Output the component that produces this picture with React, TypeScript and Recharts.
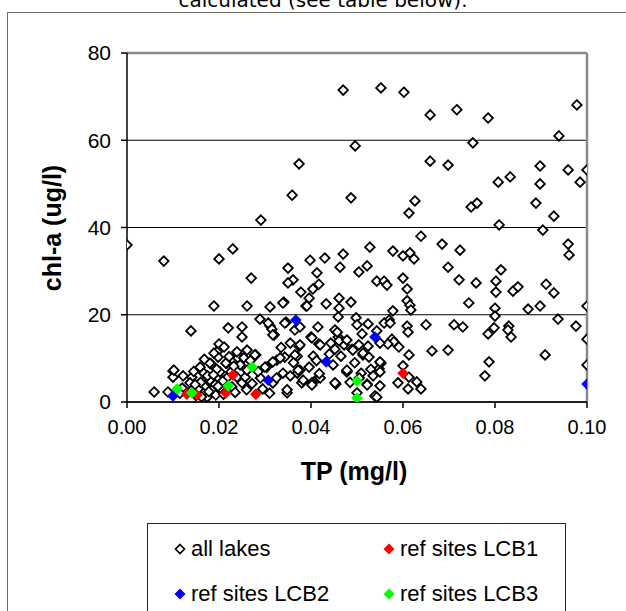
import { ScatterChart, Scatter, XAxis, YAxis, CartesianGrid, ReferenceLine, Legend } from "recharts";

// TP (mg/l), chl-a (ug/l)
const allLakes: [number, number][] = [
  [0.047, 71.5], [0.0552, 72.0], [0.0602, 71.0], [0.0659, 65.8], [0.0717, 67.0], [0.0785, 65.1],
  [0.0978, 68.1], [0.0939, 61.0], [0.0496, 58.7], [0.0752, 59.4], [0.0374, 54.6], [0.0659, 55.2],
  [0.0698, 54.3], [0.0898, 54.1], [0.0959, 53.2], [0.1, 53.2], [0.0985, 50.4], [0.0898, 50.0],
  [0.0807, 50.4], [0.0833, 51.6], [0.0359, 47.4], [0.0487, 46.8], [0.0626, 46.1], [0.0613, 43.3],
  [0.0748, 44.7], [0.0761, 45.6], [0.0889, 45.6], [0.0928, 42.6], [0.0291, 41.7], [0.0809, 40.6],
  [0.0904, 39.4], [0.0639, 38.0], [0.0685, 36.2], [0.0724, 34.8], [0.0959, 36.2], [0.0961, 33.7],
  [0.0528, 35.5], [0.047, 33.9], [0.0578, 34.6], [0.06, 33.5], [0.0615, 34.2], [0.0624, 32.8],
  [0.0463, 30.9], [0.0522, 31.2], [0.0504, 29.8], [0.0698, 30.9], [0.0813, 30.3], [0.0543, 27.7],
  [0.0559, 27.7], [0.0565, 26.8], [0.06, 28.4], [0.0722, 28.0], [0.0759, 27.3], [0.0802, 27.7],
  [0.0911, 27.0], [0.0609, 25.9], [0.0802, 25.2], [0.0839, 25.4], [0.085, 26.4], [0.0928, 25.0],
  [0.0487, 22.9], [0.0609, 23.2], [0.0615, 22.2], [0.0617, 21.1], [0.0743, 22.7], [0.08, 21.5],
  [0.08, 19.7], [0.0872, 21.3], [0.0898, 22.0], [0.1, 22.0],
  [0.0, 36.0], [0.008, 32.3], [0.02, 32.8], [0.023, 35.1], [0.027, 28.4], [0.035, 30.7],
  [0.0361, 28.0], [0.035, 27.3], [0.0398, 32.5], [0.043, 33.0], [0.0413, 29.6], [0.0417, 27.0],
  [0.0404, 25.9], [0.0396, 23.8], [0.0378, 25.2], [0.0389, 22.0], [0.0341, 22.9], [0.0311, 21.8],
  [0.0261, 22.0], [0.0189, 22.0], [0.0433, 22.5], [0.0461, 23.8], [0.0461, 21.5], [0.0459, 19.5],
  [0.0339, 22.7], [0.0391, 22.0],
  [0.0578, 20.9], [0.057, 18.8], [0.0559, 18.1], [0.0498, 19.3], [0.05, 17.7], [0.0524, 17.9],
  [0.0511, 15.6], [0.0543, 16.3], [0.0609, 17.4], [0.0611, 16.0], [0.065, 17.7], [0.0711, 17.7],
  [0.073, 17.2], [0.0798, 17.0], [0.0785, 15.6], [0.083, 17.4], [0.0828, 16.5], [0.0835, 14.9],
  [0.0937, 19.0], [0.0976, 17.4], [0.1, 14.4], [0.0576, 14.4], [0.058, 13.8], [0.0567, 13.3],
  [0.0591, 12.6], [0.055, 13.5], [0.0524, 12.8], [0.0513, 10.8], [0.0526, 10.3], [0.0504, 13.1],
  [0.0489, 12.1], [0.0472, 13.1], [0.0613, 10.8], [0.0663, 11.7], [0.0698, 11.9], [0.0909, 10.8],
  [0.1, 8.5], [0.0787, 9.2], [0.0778, 6.0], [0.06, 8.3], [0.0613, 5.7], [0.0589, 4.4],
  [0.063, 4.6], [0.0639, 3.0], [0.0611, 3.0], [0.055, 3.7], [0.0539, 1.4], [0.0552, 8.9],
  [0.0548, 7.6], [0.055, 6.9], [0.0509, 6.6], [0.0478, 7.1], [0.0522, 4.1], [0.05, 2.1],
  [0.0139, 16.3], [0.022, 17.0], [0.025, 17.2], [0.025, 14.9], [0.0289, 19.0], [0.0311, 17.4],
  [0.0315, 16.7], [0.032, 15.4], [0.0346, 18.3], [0.0365, 16.5], [0.0376, 17.2], [0.0374, 12.8],
  [0.0415, 17.2], [0.04, 14.9], [0.0417, 13.3], [0.0452, 16.5], [0.0459, 14.9], [0.0461, 14.0],
  [0.0452, 12.1], [0.0443, 13.5], [0.0478, 6.9], [0.0454, 4.1], [0.0343, 10.3], [0.037, 10.5],
  [0.037, 6.6], [0.0376, 7.3], [0.038, 4.4], [0.0396, 8.0], [0.0402, 4.4], [0.0415, 5.5],
  [0.0348, 2.1], [0.0348, 2.8], [0.0317, 4.4], [0.0304, 8.0], [0.0326, 9.6], [0.028, 10.8],
  [0.0261, 11.9], [0.0239, 11.2], [0.0241, 10.1], [0.0217, 8.9], [0.0204, 12.6], [0.0196, 11.5],
  [0.0198, 10.3], [0.0183, 8.7], [0.0159, 8.0], [0.0141, 5.7], [0.0122, 6.0], [0.01, 7.1],
  [0.01, 5.7], [0.0059, 2.3], [0.0089, 2.3],
  [0.0572, 18.1], [0.0307, 18.1], [0.0343, 18.1], [0.0317, 15.4], [0.0402, 14.7], [0.0376, 13.1],
  [0.042, 13.1], [0.0457, 16.0], [0.0478, 14.2], [0.0491, 11.9], [0.0513, 11.2], [0.055, 9.2],
  [0.0478, 7.3], [0.0452, 4.4], [0.0522, 3.9], [0.0543, 1.1], [0.0383, 5.0], [0.0402, 3.9],
  [0.042, 5.5], [0.0372, 7.3], [0.0365, 10.8], [0.0333, 10.1], [0.0317, 9.2], [0.03, 8.0],
  [0.0339, 6.6],
  [0.0102, 7.3], [0.0137, 4.4], [0.0167, 6.6], [0.018, 8.9], [0.0189, 11.2], [0.02, 13.3],
  [0.0211, 12.6], [0.0239, 11.5], [0.0254, 10.1], [0.0278, 10.8], [0.0215, 8.9], [0.0202, 6.9],
  [0.018, 5.0], [0.017, 3.4], [0.0165, 2.1], [0.0185, 2.8], [0.0193, 1.6], [0.0174, 1.1],
  [0.0239, 5.7], [0.025, 4.4], [0.0257, 5.7], [0.0261, 7.3], [0.0246, 8.5], [0.0226, 6.9],
  [0.0217, 5.5], [0.0155, 3.0], [0.016, 4.5], [0.015, 1.5], [0.0175, 6.0], [0.0192, 4.0],
  [0.0205, 3.0], [0.021, 1.8], [0.0228, 3.5], [0.0235, 2.2], [0.026, 2.8], [0.0272, 4.2],
  [0.029, 5.5], [0.0295, 3.0], [0.031, 2.0], [0.0285, 7.0], [0.0195, 7.5], [0.012, 3.2],
  [0.0115, 2.0], [0.014, 2.6], [0.0162, 1.2], [0.0325, 5.5], [0.0335, 12.5], [0.0355, 13.5],
  [0.0362, 9.0], [0.0355, 6.0], [0.0405, 10.5], [0.0412, 9.5], [0.0418, 6.5], [0.0448, 8.5],
  [0.044, 11.0], [0.0465, 10.5], [0.0495, 9.0], [0.0485, 4.5], [0.0505, 5.5], [0.053, 7.5],
  [0.0535, 6.0], [0.0145, 7.0], [0.0168, 9.8], [0.0188, 6.2], [0.0208, 4.8], [0.0222, 10.4],
  [0.0232, 8.2], [0.0268, 9.5], [0.0148, 4.0], [0.0178, 2.4], [0.0198, 3.6],
];
const refLCB1: [number, number][] = [[0.013, 1.8], [0.0152, 1.6], [0.0215, 2.1], [0.023, 6.2], [0.028, 1.8], [0.06, 6.6]];
const refLCB2: [number, number][] = [[0.01, 1.4], [0.0307, 5.0], [0.0367, 18.8], [0.0433, 9.2], [0.0539, 14.9], [0.1, 4.1]];
const refLCB3: [number, number][] = [[0.0109, 3.0], [0.0141, 2.1], [0.022, 3.7], [0.0272, 8.0], [0.05, 4.8], [0.05, 0.9]];

const xTicks = [0, 0.02, 0.04, 0.06, 0.08, 0.1];
const yTicks = [0, 20, 40, 60, 80];

const toPts = (arr: [number, number][]) => arr.map(([tp, chl]) => ({ tp, chl }));

const FONT = "'Liberation Sans', Arial, sans-serif";

function Diamond(props: any) {
  const { cx, cy, fill } = props;
  if (cx == null || cy == null) return null;
  if (fill === "none") {
    const r = 4.8;
    return (
      <polygon
        points={`${cx},${cy - r} ${cx + r},${cy} ${cx},${cy + r} ${cx - r},${cy}`}
        fill="#fff"
        stroke="#000"
        strokeWidth={1.8}
      />
    );
  }
  const r = 5.8;
  return <polygon points={`${cx},${cy - r} ${cx + r},${cy} ${cx},${cy + r} ${cx - r},${cy}`} fill={fill} />;
}

function LegendBox(props: any) {
  const { payload } = props;
  return (
    <div
      style={{
        border: "1px solid #222",
        width: 419,
        height: 100,
        boxSizing: "border-box",
        display: "grid",
        gridTemplateColumns: "234px 185px",
        gridAutoRows: "45px",
        paddingTop: 2,
        fontFamily: FONT,
        fontSize: 22,
        color: "#000",
      }}
    >
      {(payload || []).map((p: any) => {
        const hollow = p.payload?.fill === "none";
        return (
          <div key={p.value} style={{ display: "flex", alignItems: "center", paddingLeft: hollow || p.value === "ref sites LCB2" ? 25 : 0 }}>
            <svg width={14} height={14} style={{ marginRight: 4 }}>
              {hollow ? (
                <polygon points="7,2.5 11.5,7 7,11.5 2.5,7" fill="#fff" stroke="#000" strokeWidth={1.6} />
              ) : (
                <polygon points="7,1.5 12.5,7 7,12.5 1.5,7" fill={p.color} />
              )}
            </svg>
            <span>{p.value}</span>
          </div>
        );
      })}
    </div>
  );
}

export default function App() {
  return (
    <div style={{ position: "absolute", left: 0, top: 0, width: 626, height: 611, overflow: "hidden", background: "#fff" }}>
      <svg width={626} height={20} style={{ position: "absolute", left: 0, top: 0 }}>
        <text x={323} y={7} textAnchor="middle" fontFamily="'DejaVu Sans', Verdana, sans-serif" fontSize={20} fill="#000">
          calculated (see table below).
        </text>
      </svg>
      <div style={{ position: "absolute", left: 7, top: 12, width: 700, height: 700, border: "1px solid #6b6b6b" }} />
      <div style={{ position: "absolute", left: 0, top: 0 }}>
        <ScatterChart width={626} height={611} margin={{ top: 53, right: 39, bottom: 169, left: 7 }}>
          <CartesianGrid horizontal vertical={false} stroke="#000" strokeWidth={1} />
          <XAxis
            type="number"
            dataKey="tp"
            domain={[0, 0.1]}
            ticks={xTicks}
            interval={0}
            tickFormatter={(v: number) => v.toFixed(2)}
            height={40}
            tickSize={6}
            tickMargin={12}
            stroke="#000"
            strokeWidth={1.5}
            tick={{ fill: "#000", fontSize: 20, fontFamily: FONT }}
            allowDataOverflow
            label={{
              content: () => (
                <text x={354} y={480} textAnchor="middle" fontFamily={FONT} fontSize={25} fontWeight="bold" fill="#000">
                  TP (mg/l)
                </text>
              ),
            }}
          />
          <YAxis
            type="number"
            dataKey="chl"
            domain={[0, 80]}
            ticks={yTicks}
            interval={0}
            width={120}
            tickSize={6}
            tickMargin={10}
            stroke="#000"
            strokeWidth={1.5}
            tick={{ fill: "#000", fontSize: 21, fontFamily: FONT }}
            allowDataOverflow
            label={{
              content: () => (
                <text
                  x={61}
                  y={228}
                  transform="rotate(-90 61 228)"
                  textAnchor="middle"
                  fontFamily={FONT}
                  fontSize={25}
                  fontWeight="bold"
                  fill="#000"
                >
                  chl-a (ug/l)
                </text>
              ),
            }}
          />
          <ReferenceLine y={80} stroke="#8a8a8a" strokeWidth={2.5} />
          <ReferenceLine x={0.1} stroke="#8a8a8a" strokeWidth={2.5} />
          <Scatter name="all lakes" data={toPts(allLakes)} fill="none" shape={Diamond} isAnimationActive={false} />
          <Scatter name="ref sites LCB1" data={toPts(refLCB1)} fill="#ff0000" shape={Diamond} isAnimationActive={false} />
          <Scatter name="ref sites LCB2" data={toPts(refLCB2)} fill="#0000ff" shape={Diamond} isAnimationActive={false} />
          <Scatter name="ref sites LCB3" data={toPts(refLCB3)} fill="#00ff00" shape={Diamond} isAnimationActive={false} />
          <Legend
            layout="horizontal"
            verticalAlign="middle"
            align="center"
            content={LegendBox}
            wrapperStyle={{ position: "absolute", left: 147, top: 523, width: 419, height: 100 }}
          />
        </ScatterChart>
      </div>
    </div>
  );
}
